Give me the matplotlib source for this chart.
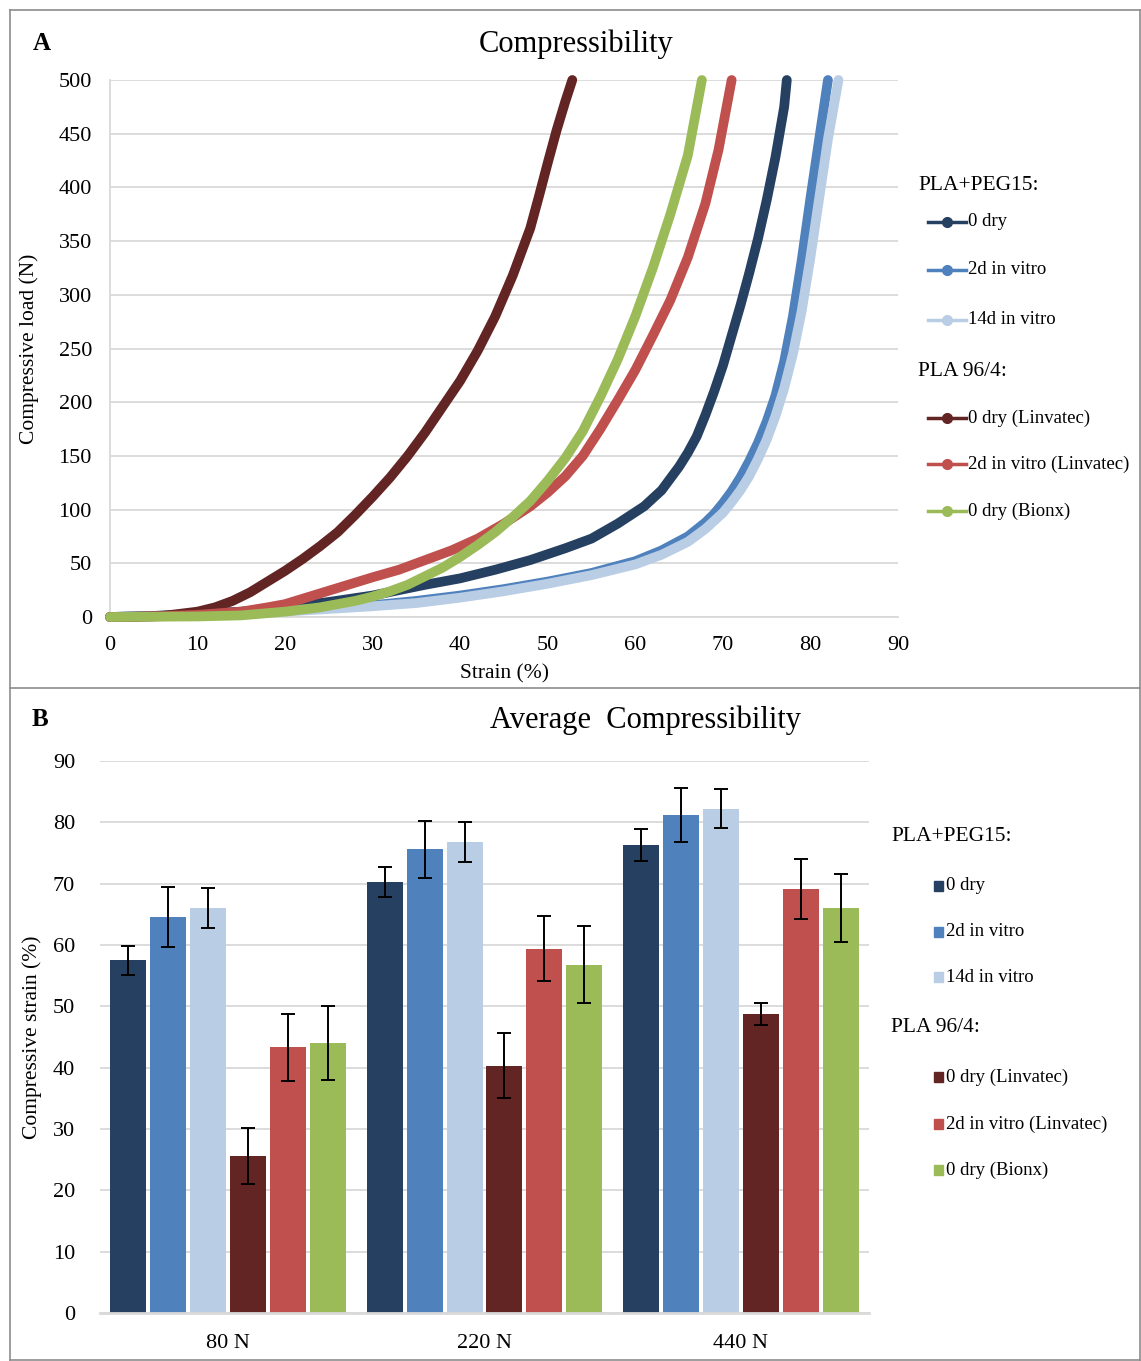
import matplotlib
matplotlib.use("Agg")
import matplotlib.pyplot as plt
from matplotlib.lines import Line2D
from matplotlib.patches import Rectangle
import numpy as np

plt.rcParams['font.family'] = ['Liberation Serif', 'DejaVu Serif']

W, H = 1141, 1361

# ---- Panel A: load vs strain curves ----
navy_x = [0, 5, 10, 15, 20, 25, 30, 33, 36, 40, 44, 48, 52, 55, 58, 61, 63, 65, 66, 67, 68, 69, 70, 71, 72, 73, 74, 75, 76, 77, 77.3]
navy_y = [0, 1, 3, 5, 9, 14, 20, 25, 30, 36, 44, 53, 64, 73, 87, 103, 118, 140, 153, 168, 188, 210, 234, 262, 290, 320, 352, 388, 428, 475, 500]

blue_x = [0, 10, 20, 30, 35, 40, 45, 50, 55, 60, 63, 66, 68, 69, 70, 71, 72, 73, 74, 75, 76, 77, 78, 79, 80, 81, 82]
blue_y = [0, 2, 6, 11, 15, 20, 26, 33, 41, 52, 62, 75, 88, 96, 106, 117, 130, 145, 162, 182, 206, 238, 280, 332, 390, 445, 500]

lblue_x = [0, 10, 20, 30, 35, 40, 45, 50, 55, 60, 63, 66, 68, 70, 71, 72, 73, 74, 75, 76, 77, 78, 79, 80, 81, 82, 83.2]
lblue_y = [0, 1.5, 5, 10, 13, 18, 24, 31, 39, 49, 58, 70, 82, 97, 107, 118, 131, 147, 165, 187, 213, 245, 285, 335, 390, 445, 500]

maroon_x = [0, 2, 4, 6, 8, 10, 12, 14, 16, 18, 20, 22, 24, 26, 28, 30, 32, 34, 36, 38, 40, 42, 44, 46, 48, 49, 50, 51, 52, 52.8]
maroon_y = [0, 0, 0.5, 1, 3, 5, 9, 15, 23, 33, 43, 54, 66, 79, 95, 112, 130, 150, 172, 196, 220, 248, 280, 318, 362, 392, 423, 453, 480, 500]

red_x = [0, 5, 10, 15, 18, 20, 22, 24, 26, 28, 30, 33, 36, 39, 42, 45, 48, 50, 52, 54, 56, 58, 60, 62, 64, 66, 68, 69.5, 71]
red_y = [0, 0.5, 2, 5, 9, 12, 17, 22, 27, 32, 37, 44, 53, 62, 73, 87, 103, 116, 131, 150, 175, 202, 230, 262, 295, 335, 385, 435, 500]

green_x = [0, 10, 15, 20, 22, 24, 26, 28, 30, 32, 34, 36, 38, 40, 42, 44, 46, 48, 50, 52, 54, 56, 58, 60, 62, 64, 66, 67.6]
green_y = [0, 0.5, 1.5, 5, 7, 9, 12, 15, 19, 24, 30, 38, 46, 56, 67, 79, 93, 108, 127, 148, 173, 205, 240, 280, 325, 375, 430, 500]

# ---- Panel B: average compressive strain ----
loads = ["80 N", "220 N", "440 N"]
series_names = ["0 dry", "2d in vitro", "14d in vitro",
                "0 dry (Linvatec)", "2d in vitro (Linvatec)", "0 dry (Bionx)"]
strain_navy = [57.5, 70.3, 76.3]
strain_blue = [64.6, 75.6, 81.2]
strain_lblue = [66.0, 76.8, 82.2]
strain_maroon = [25.6, 40.3, 48.7]
strain_red = [43.3, 59.4, 69.2]
strain_green = [44.0, 56.8, 66.0]
err_navy = [2.35, 2.4, 2.6]
err_blue = [4.9, 4.6, 4.4]
err_lblue = [3.3, 3.2, 3.2]
err_maroon = [4.6, 5.3, 1.8]
err_red = [5.4, 5.3, 4.9]
err_green = [6.0, 6.3, 5.5]

colors = ["#254061", "#4F81BD", "#B9CDE5", "#632523", "#C0504D", "#9BBB59"]
grid_c = "#D9D9D9"


def fx(x):
    return x / W


def fy(y):
    return 1 - y / H


fig = plt.figure(figsize=(W / 100, H / 100), dpi=100)

# panel frames
frame_c = "#8C8C8C"
for (x0, y0, x1, y1) in [(10, 10, 1140, 10), (10, 10, 10, 1360), (1140, 10, 1140, 1360),
                         (10, 688, 1140, 688), (10, 1360, 1140, 1360)]:
    fig.add_artist(Line2D([fx(x0), fx(x1)], [fy(y0), fy(y1)], color=frame_c, lw=1.2))

# ---------- Panel A ----------
axA = fig.add_axes([fx(110), fy(617), (898 - 110) / W, (617 - 80) / H])
curves = [(navy_x, navy_y), (blue_x, blue_y), (lblue_x, lblue_y),
          (maroon_x, maroon_y), (red_x, red_y), (green_x, green_y)]
for (xs, ys), c in zip(curves, colors):
    axA.plot(xs, ys, color=c, lw=7, solid_capstyle='round', solid_joinstyle='round',
             zorder=3, clip_on=False)
axA.set_xlim(0, 90)
axA.set_ylim(0, 500)
axA.set_xticks(np.arange(0, 91, 10))
axA.set_yticks(np.arange(0, 501, 50))
axA.grid(axis='y', color=grid_c, lw=1.3)
axA.set_axisbelow(True)
for s in ['top', 'right']:
    axA.spines[s].set_visible(False)
axA.spines['left'].set_color(grid_c)
axA.spines['left'].set_linewidth(1.3)
axA.spines['bottom'].set_color(grid_c)
axA.spines['bottom'].set_linewidth(1.3)
axA.tick_params(length=0, labelsize=16, pad=13)
axA.tick_params(axis='x', pad=14)
axA.set_xlabel("Strain (%)", fontsize=15.5, labelpad=6)
axA.set_ylabel("Compressive load (N)", fontsize=15.5, labelpad=14)

fig.text(fx(42), fy(44), "A", fontsize=18, fontweight='bold', ha='center', va='center')
fig.text(fx(576), fy(44), "Compressibility", fontsize=22, ha='center', va='center')


# Legend A
def legend_line(xl, y, c, label):
    fig.add_artist(Line2D([fx(xl), fx(xl + 38)], [fy(y), fy(y)], color=c, lw=2.5))
    fig.add_artist(Line2D([fx(xl + 19)], [fy(y)], color=c, marker='o', ms=7, lw=0))
    fig.text(fx(xl + 40), fy(y), label, fontsize=13.5, ha='left', va='center')


fig.text(fx(918), fy(186), "PLA+PEG15:", fontsize=15.5, ha='left', va='center')
fig.text(fx(918), fy(372), "PLA 96/4:", fontsize=15.5, ha='left', va='center')
rowsA = [222, 270, 320, 418, 464, 511]
for y, c, lab in zip(rowsA, colors, series_names):
    legend_line(928, y, c, lab)

# ---------- Panel B ----------
axB = fig.add_axes([fx(100), fy(1313), (869 - 100) / W, (1313 - 761) / H])
vals = [strain_navy, strain_blue, strain_lblue, strain_maroon, strain_red, strain_green]
errs = [err_navy, err_blue, err_lblue, err_maroon, err_red, err_green]
x = np.arange(len(loads))
step = 40 / 256.5
bw = 36 / 256.5
for i, (v, e, c) in enumerate(zip(vals, errs, colors)):
    axB.bar(x + (i - 2.5) * step, v, width=bw, color=c, zorder=2,
            yerr=e, capsize=5, error_kw=dict(ecolor='black', elinewidth=1.4, capthick=1.4, zorder=3))
axB.set_xlim(-0.5, 2.5)
axB.set_ylim(0, 90)
axB.set_yticks(np.arange(0, 91, 10))
axB.set_xticks(x)
axB.set_xticklabels(loads)
axB.grid(axis='y', color=grid_c, lw=1.3)
axB.set_axisbelow(True)
for s in ['top', 'right', 'left']:
    axB.spines[s].set_visible(False)
axB.spines['bottom'].set_color(grid_c)
axB.spines['bottom'].set_linewidth(2)
axB.tick_params(length=0, labelsize=16, pad=18)
axB.tick_params(axis='x', pad=15)
axB.set_ylabel("Compressive strain (%)", fontsize=15.5, labelpad=8)

fig.text(fx(40), fy(720), "B", fontsize=18, fontweight='bold', ha='center', va='center')
fig.text(fx(646), fy(720), "Average  Compressibility", fontsize=22, ha='center', va='center')

fig.text(fx(891), fy(837), "PLA+PEG15:", fontsize=15.5, ha='left', va='center')
fig.text(fx(891), fy(1028), "PLA 96/4:", fontsize=15.5, ha='left', va='center')
rowsB = [886, 932, 977, 1077, 1124, 1170]
for y, c, lab in zip(rowsB, colors, series_names):
    fig.add_artist(Rectangle((fx(934), fy(y + 5)), 9 / W, 10 / H, color=c, transform=fig.transFigure))
    fig.text(fx(946), fy(y), lab, fontsize=13.5, ha='left', va='center')

fig.savefig("out.png", dpi=100)
